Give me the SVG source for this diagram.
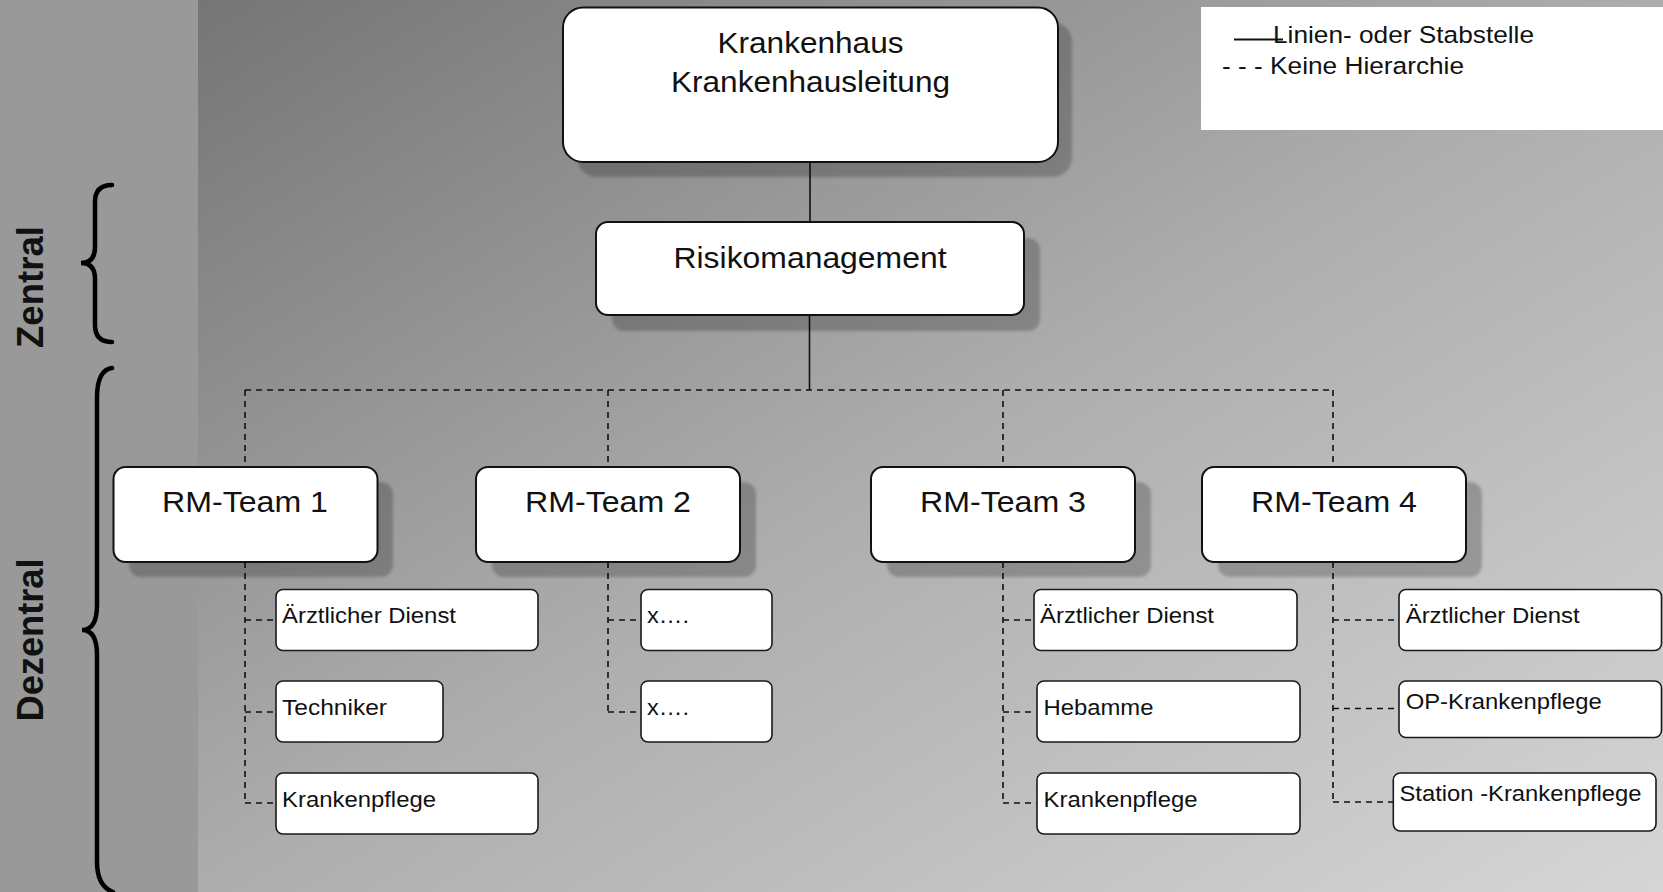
<svg xmlns="http://www.w3.org/2000/svg" width="1663" height="892" viewBox="0 0 1663 892">
<defs>
<linearGradient id="bg" x1="0" y1="0" x2="1" y2="1">
<stop offset="0" stop-color="#757575"/>
<stop offset="0.5" stop-color="#adadad"/>
<stop offset="1" stop-color="#d6d6d6"/>
</linearGradient>
<filter id="blur" x="-10%" y="-10%" width="120%" height="120%"><feGaussianBlur stdDeviation="1.5"/></filter>
<style>
.box{fill:#fff;stroke:#111;stroke-width:2}
.sub{fill:#fff;stroke:#1a1a1a;stroke-width:1.6}
.shadow{fill:#000;fill-opacity:0.22;filter:url(#blur)}
.t{font-family:"Liberation Sans",Arial,sans-serif;fill:#111}
.big{font-size:29.5px;text-anchor:middle}
.small{font-size:22px}
.leg{font-size:24.5px}
.side{font-family:"Liberation Sans",Arial,sans-serif;font-weight:bold;font-size:36px;fill:#111;text-anchor:middle}
.solid{stroke:#111;stroke-width:1.6;fill:none}
.dash{stroke:#111;stroke-width:1.6;fill:none;stroke-dasharray:6 5}
.brace{stroke:#000;stroke-width:4.5;fill:none;stroke-linecap:round}
</style>
</defs>

<rect x="198" y="0" width="1465" height="892" fill="url(#bg)"/>
<rect x="0" y="0" width="198" height="892" fill="#999999"/>

<g id="legend">
<rect x="1201" y="7" width="462" height="123" fill="#fff"/>
<line x1="1234" y1="39.5" x2="1283" y2="39.5" stroke="#111" stroke-width="2"/>
<text class="t leg" x="1273" y="42.7" textLength="261" lengthAdjust="spacingAndGlyphs">Linien- oder Stabstelle</text>
<text class="t leg" x="1222" y="74" textLength="242" lengthAdjust="spacingAndGlyphs">- - - Keine Hierarchie</text>
</g>

<g id="side-labels">
<text class="side" transform="translate(43,287) rotate(-90)" textLength="122" lengthAdjust="spacingAndGlyphs">Zentral</text>
<text class="side" transform="translate(43,640) rotate(-90)" textLength="163" lengthAdjust="spacingAndGlyphs">Dezentral</text>
<path class="brace" d="M112,185 Q95,185 95,202 L95,247 Q95,263 81,263 Q95,263 95,279 L95,325 Q95,342 112,342"/>
<path class="brace" d="M112,368 Q97,370 97,398 L97,605 Q97,630 82,630 Q97,630 97,655 L97,862 Q97,886 113,892"/>
</g>

<g id="connectors">
<path class="solid" d="M810,162 V222 M809.5,315 V390"/>
<path class="dash" d="M245,390 H1333 M245,390 V467 M608,390 V467 M1003,390 V467 M1333,390 V467"/>
<path class="dash" d="M245,562 V803 M245,620 H276 M245,712 H276 M245,803 H276"/>
<path class="dash" d="M608,562 V712 M608,620 H641 M608,712 H641"/>
<path class="dash" d="M1003,562 V803 M1003,620 H1034 M1003,712 H1037 M1003,803 H1037"/>
<path class="dash" d="M1333,562 V802 M1333,620 H1399 M1333,708.5 H1399 M1333,802 H1393"/>
</g>

<g id="krankenhaus">
<rect class="shadow" x="577" y="22" width="495" height="155" rx="20"/>
<rect class="box" x="563" y="7.5" width="495" height="154.5" rx="20"/>
<text class="t big" x="810.5" y="53" textLength="186" lengthAdjust="spacingAndGlyphs">Krankenhaus</text>
<text class="t big" x="810.5" y="92" textLength="279" lengthAdjust="spacingAndGlyphs">Krankenhausleitung</text>
</g>

<g id="risikomanagement">
<rect class="shadow" x="612" y="238" width="428" height="93" rx="12"/>
<rect class="box" x="596" y="222" width="428" height="93" rx="12"/>
<text class="t big" x="810" y="267.7" textLength="273" lengthAdjust="spacingAndGlyphs">Risikomanagement</text>
</g>

<g id="rm-team-1">
<rect class="shadow" x="129" y="482" width="264" height="95" rx="12"/>
<rect class="box" x="113.5" y="467" width="264" height="95" rx="12"/>
<text class="t big" x="245" y="511.7" textLength="166" lengthAdjust="spacingAndGlyphs">RM-Team 1</text>
</g>
<g id="rm-team-2">
<rect class="shadow" x="492" y="482" width="264" height="95" rx="12"/>
<rect class="box" x="476" y="467" width="264" height="95" rx="12"/>
<text class="t big" x="608" y="511.7" textLength="166" lengthAdjust="spacingAndGlyphs">RM-Team 2</text>
</g>
<g id="rm-team-3">
<rect class="shadow" x="887" y="482" width="264" height="95" rx="12"/>
<rect class="box" x="871" y="467" width="264" height="95" rx="12"/>
<text class="t big" x="1003" y="511.7" textLength="166" lengthAdjust="spacingAndGlyphs">RM-Team 3</text>
</g>
<g id="rm-team-4">
<rect class="shadow" x="1218" y="482" width="264" height="95" rx="12"/>
<rect class="box" x="1202" y="467" width="264" height="95" rx="12"/>
<text class="t big" x="1334" y="511.7" textLength="166" lengthAdjust="spacingAndGlyphs">RM-Team 4</text>
</g>

<g id="t1-aerztlicher-dienst">
<rect class="sub" x="276" y="589.5" width="262" height="61" rx="7"/>
<text class="t small" x="282" y="623" textLength="174" lengthAdjust="spacingAndGlyphs">Ärztlicher Dienst</text>
</g>
<g id="t1-techniker">
<rect class="sub" x="276" y="681" width="167" height="61" rx="7"/>
<text class="t small" x="282" y="715" textLength="105" lengthAdjust="spacingAndGlyphs">Techniker</text>
</g>
<g id="t1-krankenpflege">
<rect class="sub" x="276" y="773" width="262" height="61" rx="7"/>
<text class="t small" x="282" y="806.7" textLength="154" lengthAdjust="spacingAndGlyphs">Krankenpflege</text>
</g>

<g id="t2-x1">
<rect class="sub" x="641" y="589.5" width="131" height="61" rx="7"/>
<text class="t small" x="647" y="623" textLength="42" lengthAdjust="spacingAndGlyphs">x….</text>
</g>
<g id="t2-x2">
<rect class="sub" x="641" y="681" width="131" height="61" rx="7"/>
<text class="t small" x="647" y="715" textLength="42" lengthAdjust="spacingAndGlyphs">x….</text>
</g>

<g id="t3-aerztlicher-dienst">
<rect class="sub" x="1034" y="589.5" width="263" height="61" rx="7"/>
<text class="t small" x="1040" y="623" textLength="174" lengthAdjust="spacingAndGlyphs">Ärztlicher Dienst</text>
</g>
<g id="t3-hebamme">
<rect class="sub" x="1037" y="681" width="263" height="61" rx="7"/>
<text class="t small" x="1043.5" y="715" textLength="110" lengthAdjust="spacingAndGlyphs">Hebamme</text>
</g>
<g id="t3-krankenpflege">
<rect class="sub" x="1037" y="773" width="263" height="61" rx="7"/>
<text class="t small" x="1043.5" y="806.7" textLength="154" lengthAdjust="spacingAndGlyphs">Krankenpflege</text>
</g>

<g id="t4-aerztlicher-dienst">
<rect class="sub" x="1399" y="589.5" width="262.5" height="61" rx="7"/>
<text class="t small" x="1405.7" y="623" textLength="174" lengthAdjust="spacingAndGlyphs">Ärztlicher Dienst</text>
</g>
<g id="t4-op-krankenpflege">
<rect class="sub" x="1399" y="681" width="262.5" height="56.5" rx="7"/>
<text class="t small" x="1405.7" y="709.3" textLength="196" lengthAdjust="spacingAndGlyphs">OP-Krankenpflege</text>
</g>
<g id="t4-station-krankenpflege">
<rect class="sub" x="1393.3" y="773" width="262.7" height="58" rx="7"/>
<text class="t small" x="1399.5" y="800.7" textLength="242" lengthAdjust="spacingAndGlyphs">Station -Krankenpflege</text>
</g>
</svg>
